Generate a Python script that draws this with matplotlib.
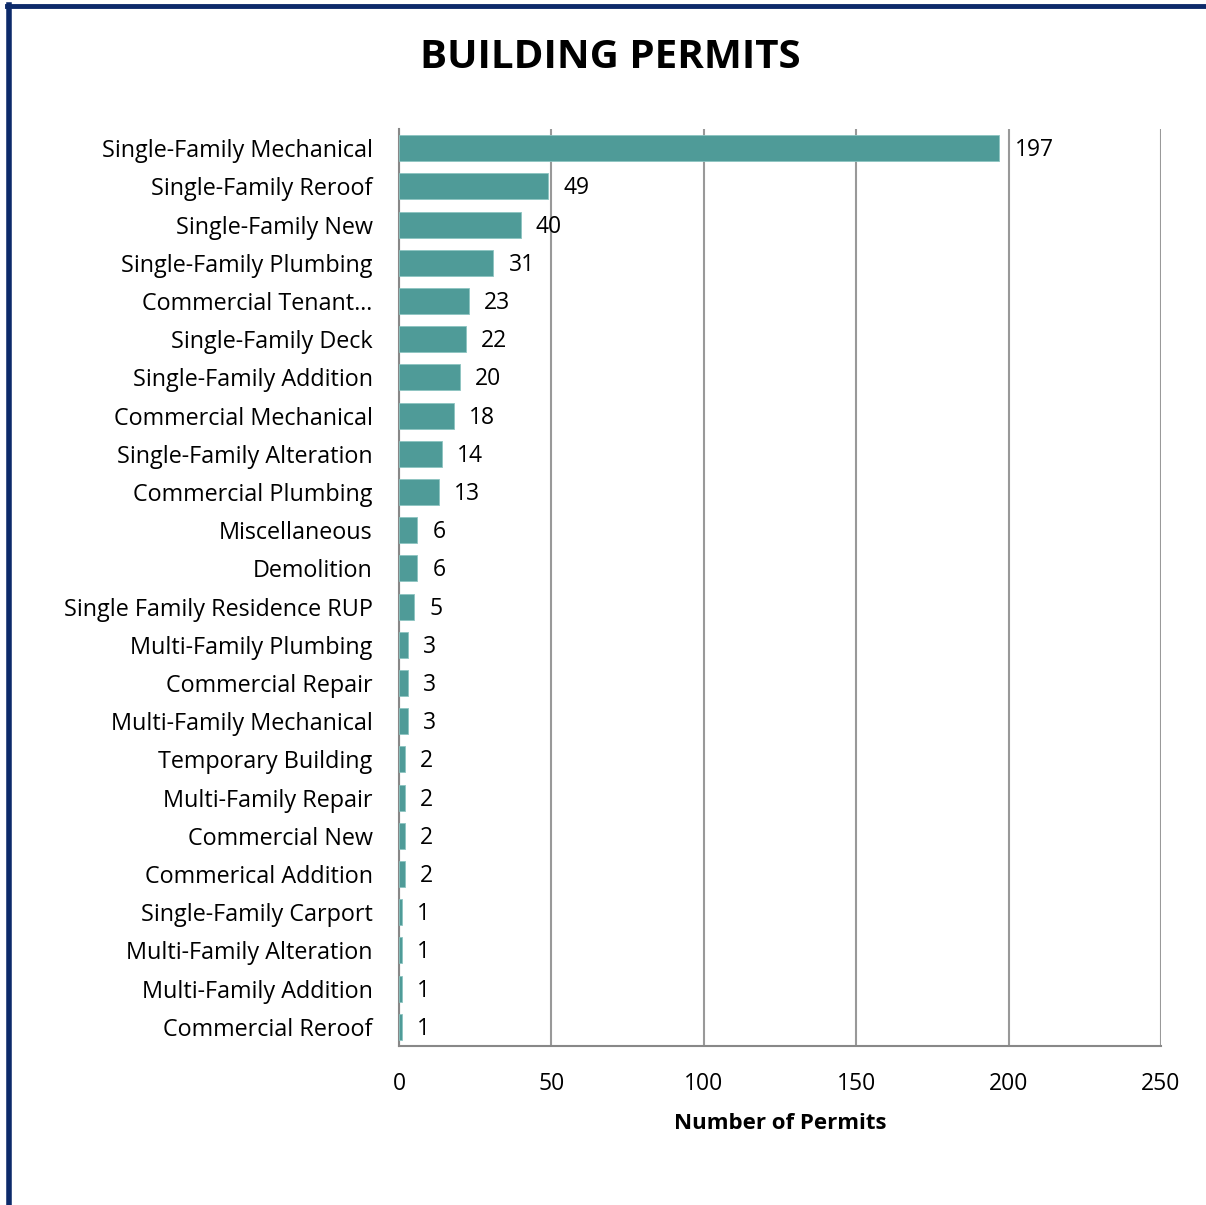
import matplotlib.pyplot as plt
from matplotlib.lines import Line2D

categories = [
    "Single-Family Mechanical", "Single-Family Reroof", "Single-Family New",
    "Single-Family Plumbing", "Commercial Tenant\u2026", "Single-Family Deck",
    "Single-Family Addition", "Commercial Mechanical", "Single-Family Alteration",
    "Commercial Plumbing", "Miscellaneous", "Demolition",
    "Single Family Residence RUP", "Multi-Family Plumbing", "Commercial Repair",
    "Multi-Family Mechanical", "Temporary Building", "Multi-Family Repair",
    "Commercial New", "Commerical Addition", "Single-Family Carport",
    "Multi-Family Alteration", "Multi-Family Addition", "Commercial Reroof",
]
permits = [197, 49, 40, 31, 23, 22, 20, 18, 14, 13, 6, 6, 5, 3, 3, 3, 2, 2, 2, 2, 1, 1, 1, 1]
xticks = [0, 50, 100, 150, 200, 250]

plt.rcParams['font.family'] = ['Open Sans', 'DejaVu Sans']

fig = plt.figure(figsize=(12.06, 12.05), dpi=100)
W, H = 1206, 1205
ax = fig.add_axes([399 / W, 1 - 1046 / H, (1161 - 399) / W, (1046 - 129) / H])

y = list(range(len(categories)))
ax.barh(y, permits, height=0.68, color='#4f9b98', edgecolor='#8cc4c1', linewidth=0.6, zorder=3)
ax.set_ylim(len(categories) - 0.5, -0.5)
ax.set_xlim(0, 250)
ax.set_yticks(y)
ax.set_yticklabels(categories, fontsize=16.8)
ax.set_xticks(xticks)
ax.set_xticklabels([str(t) for t in xticks], fontsize=16.5)
ax.tick_params(axis='both', length=0)
ax.tick_params(axis='y', pad=19)
ax.tick_params(axis='x', pad=19)
ax.grid(axis='x', color='#999999', linewidth=1.5, zorder=1)
for s in ['top', 'right']:
    ax.spines[s].set_visible(False)
for s in ['left', 'bottom']:
    ax.spines[s].set_color('#888888')
    ax.spines[s].set_linewidth(1.5)

for yi, v in zip(y, permits):
    ax.annotate(str(v), (v, yi), xytext=(15, -2), textcoords='offset pixels',
                va='center', ha='left', fontsize=16.5, zorder=4)

ax.set_xlabel("Number of Permits", fontsize=16, fontweight='bold', labelpad=12)
fig.text(610 / W, 1 - 58 / H, "BUILDING PERMITS", fontsize=29, fontweight='bold',
         ha='center', va='center')

# navy frame edges (top and left)
navy = '#0d2a6a'
fig.add_artist(Line2D([7 / W, 1], [1 - 6 / H, 1 - 6 / H], color=navy, linewidth=3.5,
                      transform=fig.transFigure))
fig.add_artist(Line2D([9 / W, 9 / W], [0, 1 - 5 / H], color=navy, linewidth=4,
                      transform=fig.transFigure))

fig.savefig('out.png', dpi=100)
